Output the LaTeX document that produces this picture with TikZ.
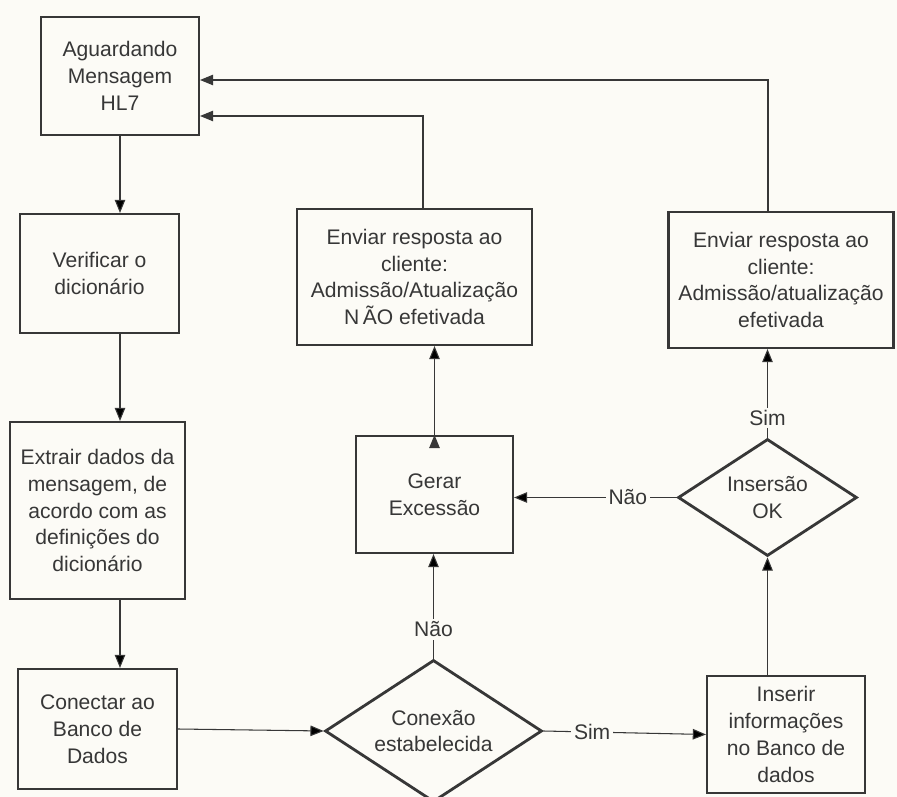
\documentclass[tikz,border=0pt]{standalone}
\usepackage{fontspec}
\setmainfont{Liberation Sans}
\usetikzlibrary{shapes.geometric,arrows.meta}
\definecolor{paper}{RGB}{252,251,246}
\definecolor{ink}{RGB}{55,55,55}
\tikzset{
  box/.style={draw=ink, line width=1.2pt, align=center, inner sep=2pt, text=ink},
  decision/.style={diamond, draw=ink, line width=1.6pt, align=center, inner sep=0pt, shape aspect=1.5, text=ink},
  flow/.style={draw=ink, line width=0.6pt, -{Triangle[length=7.5pt,width=6pt]}},
  lab/.style={fill=paper, inner sep=1.5pt, text=ink}
}
\begin{document}
\begin{tikzpicture}[x=0.02cm, y=-0.02cm, font=\fontsize{12}{15.3}\selectfont]
\fill[paper] (0,0) rectangle (897,797);
\useasboundingbox (0,0) rectangle (897,797);
\node[box, minimum width=3.16cm, minimum height=2.36cm] (Pwait) at (120,76) {Aguardando\\Mensagem\\HL7};
\node[box, minimum width=3.18cm, minimum height=2.38cm] (Pcheck) at (99.5,273.5) {Verificar o\\dicionário};
\node[box, minimum width=3.50cm, minimum height=3.54cm] (Pextract) at (97.5,510.5) {Extrair dados da\\mensagem, de\\acordo com as\\definições do\\dicionário};
\node[box, minimum width=3.18cm, minimum height=2.40cm] (Pconnect) at (97.5,729) {Conectar ao\\Banco de\\Dados};
\node[decision, minimum width=4.34cm, minimum height=2.84cm] (Pconn) at (433.5,731) {Conexão\\estabelecida};
\node[box, minimum width=3.16cm, minimum height=2.34cm] (Pinsert) at (786,734.5) {Inserir\\informações\\no Banco de\\dados};
\node[decision, minimum width=3.58cm, minimum height=2.34cm] (Pok) at (767.5,497.5) {Insersão\\OK};
\node[box, minimum width=3.14cm, minimum height=2.34cm] (Pexc) at (434.5,494.5) {Gerar\\Excessão};
\node[box, minimum width=4.70cm, minimum height=2.72cm] (Pfail) at (414.5,277) {Enviar resposta ao\\cliente:\\Admissão/Atualização\\N\,ÃO efetivada};
\node[box, minimum width=4.50cm, minimum height=2.72cm] (Pdone) at (781,280) {Enviar resposta ao\\cliente:\\Admissão/atualização\\efetivada};
\path[flow]
(Pwait.south) edge (Pwait.south |- Pcheck.north)
(Pcheck.south -| Pwait.south) edge (Pextract.north -| Pwait.south)
(Pextract.south -| Pwait.south) edge (Pconnect.north -| Pwait.south)
(Pconnect.east) edge (Pconn.west)
(Pconn.east) edge node[lab, pos=0.3] {Sim} (Pinsert.west)
(Pconn.north) edge node[lab, pos=0.28] {Não} (Pconn.north |- Pexc.south)
(Pinsert.north -| Pok.south) edge (Pok.south)
(Pok.west) edge node[lab, pos=0.3] {Não} (Pok.west -| Pexc.east)
(Pok.north) edge node[lab, pos=0.22] {Sim} (Pok.north |- Pdone.south)
(Pexc.north) edge (Pexc.north |- Pfail.south);
\draw[flow] ([xshift=0.17cm]Pfail.north) |- ([yshift=-0.8cm]Pwait.east);
\draw[flow] ([xshift=-0.26cm]Pdone.north) |- ([yshift=-0.08cm]Pwait.east);
\end{tikzpicture}
\end{document}
